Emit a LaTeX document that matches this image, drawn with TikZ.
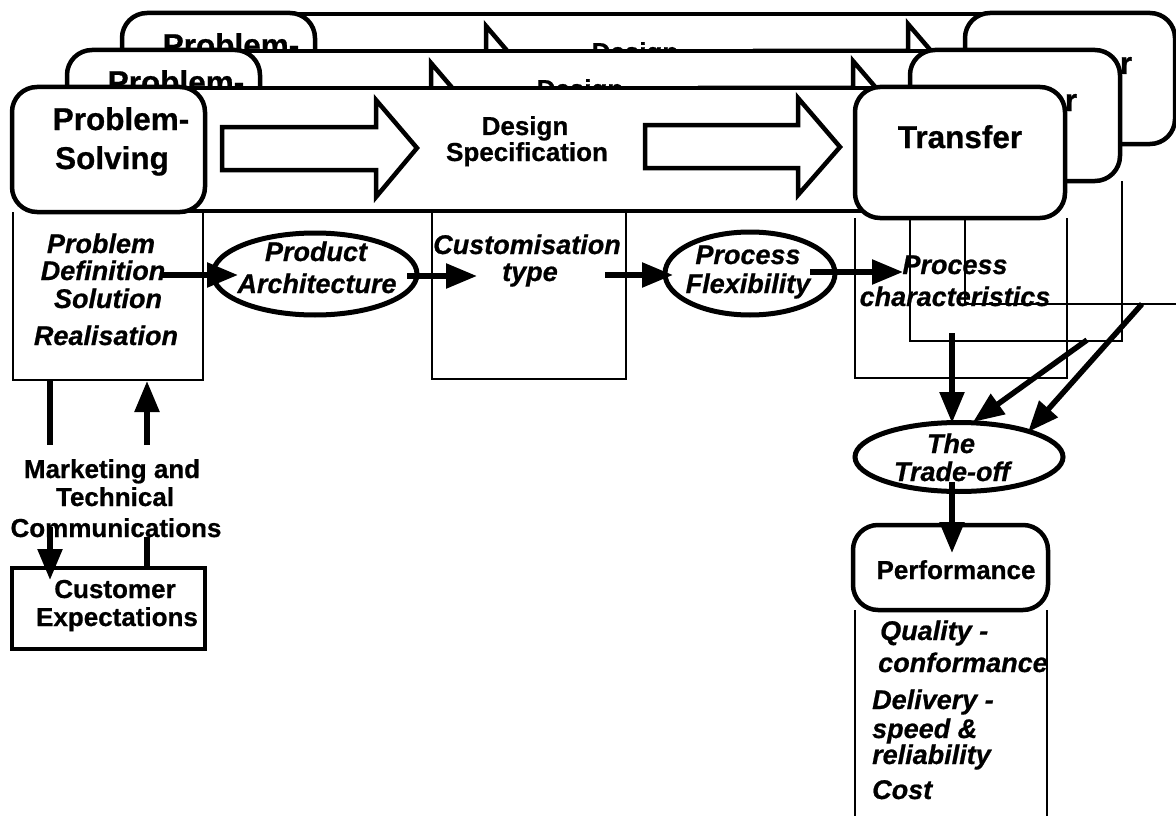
\documentclass[tikz,border=0pt]{standalone}
\usepackage{fontspec}
\setmainfont{Liberation Sans}[BoldFeatures={FakeBold=0.7}, BoldItalicFeatures={FakeBold=0.7}]
\usetikzlibrary{arrows.meta,shapes.geometric}
\tikzset{
  thinln/.style={line width=1.6pt},
  bandln/.style={line width=4.5pt, fill=white},
  boxln/.style={line width=4.5pt, fill=white, rounded corners=25pt},
  sqbox/.style={line width=4.5pt, fill=white},
  blockarr/.style={line width=4.5pt, fill=white, line join=miter},
  ell/.style={ellipse, draw, line width=5pt, inner sep=0pt},
  conn/.style={line width=5.5pt, -{Triangle[length=31pt,width=24pt]}},
  plainconn/.style={line width=5.5pt},
  titletxt/.style={font=\bfseries\fontsize{31.5}{34}\selectfont, inner sep=0pt, anchor=base},
  midtxt/.style={font=\bfseries\fontsize{26}{28}\selectfont, inner sep=0pt, anchor=base},
  ittxt/.style={font=\bfseries\itshape\fontsize{27}{29}\selectfont, inner sep=0pt, anchor=base},
  itl/.style={ittxt, anchor=base west},
  bftxt/.style={font=\bfseries\fontsize{26}{29}\selectfont, inner sep=0pt, anchor=base},
}
\newcommand\drawlayer[3]{%
\begin{scope}[shift={(#2,#3)}]
  \draw[thinln] (855,218) -- (855,378) -- (1067,378) -- (1067,218);
  \draw[bandln] (110,88) rectangle (960,211);
  \draw[blockarr] (222,127) -- (376,127) -- (376,100) -- (417,148) -- (376,197) -- (376,170) -- (222,170) -- cycle;
  \draw[blockarr] (645,125) -- (798,125) -- (798,98) -- (840,147) -- (798,195) -- (798,168) -- (645,168) -- cycle;
  \node[midtxt] (dsA#1) at (525,135) {Design};
  \node[midtxt] (dsB#1) at (527,161) {Specification};
  \draw[boxln] (12,87) rectangle (205,212);
  \node[titletxt] (psA#1) at (121,130) {Problem-};
  \node[titletxt] (psB#1) at (112,169) {Solving};
  \draw[boxln] (855,87) rectangle (1065,218);
  \node[titletxt] (tr#1) at (960,148) {Transfer};
\end{scope}}
\begin{document}
\begin{tikzpicture}[x=1pt,y=-1pt]
\useasboundingbox (0,0) rectangle (1176,816);
\fill[white] (0,0) rectangle (1176,816);
\begin{scope}
\clip (0,0) rectangle (1176,816);
\drawlayer{c}{110}{-74}
\drawlayer{b}{55}{-37}
\drawlayer{a}{0}{0}
% front panels
\draw[thinln] (13,212) -- (13,380) -- (203,380) -- (203,212);
\draw[thinln] (432,211) -- (432,379) -- (626,379) -- (626,211);
% left panel text
\node[ittxt] (lpa) at (101,253) {Problem};
\node[ittxt] (lpb) at (103,280) {Definition};
\node[ittxt] (lpc) at (108,308) {Solution};
\node[ittxt] (lpd) at (106,345) {Realisation};
% ellipses
\node[ell, minimum width=204pt, minimum height=82pt] (pa) at (315,274) {};
\node[ittxt] (paA) at (316,261) {Product};
\node[ittxt] (paB) at (317,293) {Architecture};
\node[ittxt] (ctA) at (527,254) {Customisation};
\node[ittxt] (ctB) at (530,281) {type};
\node[ell, minimum width=170pt, minimum height=83pt] (pf) at (750,273.5) {};
\node[ittxt] (pfA) at (748,264) {Process};
\node[ittxt] (pfB) at (748,293) {Flexibility};
\node[ittxt] (pcA) at (955,274) {Process};
\node[ittxt] (pcB) at (955,306) {characteristics};
\node[ell, minimum width=208pt, minimum height=69pt] (to) at (959,457) {};
\node[ittxt] (toA) at (951,453) {The};
\node[ittxt] (toB) at (952,481) {Trade-off};
% performance
\draw[thinln] (855,610) -- (855,820);
\draw[thinln] (1047,610) -- (1047,820);
\draw[boxln] (853,525) rectangle (1048,610);
\node[bftxt] (perf) at (956,579) {Performance};
\node[itl] (q1) at (880,640) {Quality -};
\node[itl] (q2) at (878,672) {conformance};
\node[itl] (q3) at (872,709) {Delivery -};
\node[itl] (q4) at (872,738) {speed \&};
\node[itl] (q5) at (872,764) {reliability};
\node[itl] (q6) at (872,799) {Cost};
% marketing
\node[bftxt] (mkA) at (112,478) {Marketing and};
\node[bftxt] (mkB) at (115,506) {Technical};
\node[bftxt] (mkC) at (116,537) {Communications};
\draw[sqbox] (12,568) rectangle (205,649);
\node[bftxt] (ceA) at (115,598) {Customer};
\node[bftxt] (ceB) at (117,626) {Expectations};
% connector end points
\coordinate (a1s) at (160,275); \coordinate (a1e) at (238,275);
\coordinate (a2s) at (407,276); \coordinate (a2e) at (477,276);
\coordinate (a3s) at (605,275); \coordinate (a3e) at (673,275);
\coordinate (a4s) at (810,272); \coordinate (a4e) at (903,272);
\coordinate (tvs) at (952,333); \coordinate (tve) at (952,423);
\coordinate (d1s) at (1087,340); \coordinate (d1e) at (973,422);
\coordinate (d2s) at (1142,304); \coordinate (d2e) at (1028,432);
\coordinate (tps) at (952,482); \coordinate (tpe) at (952,553);
\coordinate (ld1s) at (50,380); \coordinate (ld1e) at (50,445);
\coordinate (ld2s) at (50,527); \coordinate (ld2e) at (50,580);
\coordinate (ru1s) at (147,568); \coordinate (ru1e) at (147,537);
\coordinate (ru2s) at (147,445); \coordinate (ru2e) at (147,381);
\draw[conn] (a1s) -- (a1e);
\draw[conn] (a2s) -- (a2e);
\draw[conn] (a3s) -- (a3e);
\draw[conn] (a4s) -- (a4e);
\draw[conn] (tvs) -- (tve);
\draw[conn] (d1s) -- (d1e);
\draw[conn] (d2s) -- (d2e);
\draw[conn] (tps) -- (tpe);
\draw[plainconn] (ld1s) -- (ld1e);
\draw[conn] (ld2s) -- (ld2e);
\draw[plainconn] (ru1s) -- (ru1e);
\draw[conn] (ru2s) -- (ru2e);
\end{scope}
\end{tikzpicture}
\end{document}
